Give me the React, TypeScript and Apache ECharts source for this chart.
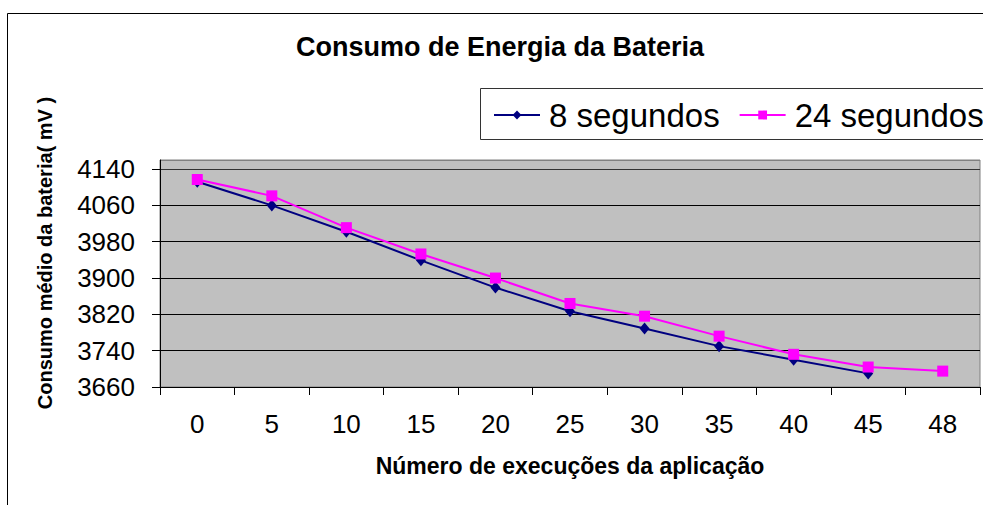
import React, { useEffect, useRef } from "react";
import * as echarts from "echarts";

const categories = ["0", "5", "10", "15", "20", "25", "30", "35", "40", "45", "48"];
const seg8 = [4112, 4060, 4002, 3939, 3879, 3827, 3789, 3750, 3720, 3690];
const seg24 = [4117, 4081, 4011, 3953, 3900, 3844, 3816, 3772, 3732, 3704, 3695];
const seriesNames = ["8 segundos", "24 segundos"];
const chartTitle = "Consumo de Energia da Bateria";
const xTitle = "Número de execuções da aplicação";
const yTitle = "Consumo médio da bateria( mV )";

const FONT = "'Liberation Sans', Arial, sans-serif";

export default function App() {
  const ref = useRef<HTMLDivElement>(null);
  useEffect(() => {
    if (!ref.current) return;
    const chart = echarts.init(ref.current, null, { renderer: "svg" });
    chart.setOption({
      animation: false,
      backgroundColor: "#ffffff",
      title: {
        text: chartTitle,
        left: 500,
        textAlign: "center",
        top: 33,
        padding: 0,
        textStyle: { fontFamily: FONT, fontSize: 27, fontWeight: "bold", color: "#000" },
      },
      graphic: [
        {
          type: "rect",
          z: 0,
          shape: { x: 7.5, y: 13.5, width: 1000, height: 600 },
          style: { fill: "none", stroke: "#000", lineWidth: 1 },
        },
        {
          type: "rect",
          z: 0,
          shape: { x: 480.5, y: 88.5, width: 600, height: 51 },
          style: { fill: "none", stroke: "#333", lineWidth: 1 },
        },
        {
          type: "text",
          x: 45,
          y: 253,
          rotation: Math.PI / 2,
          style: {
            text: yTitle,
            fontFamily: FONT,
            fontSize: 20,
            fontWeight: "bold",
            fill: "#000",
            align: "center",
            verticalAlign: "middle",
          },
        },
      ],
      legend: {
        left: 493,
        top: 95,
        width: 700,
        padding: 0,
        itemWidth: 46,
        itemHeight: 11,
        itemGap: 19,
        data: seriesNames,
        textStyle: {
          fontFamily: FONT,
          fontSize: 33,
          color: "#000",
          lineHeight: 40,
          padding: [0, 0, 0, 4],
        },
      },
      grid: {
        left: 160,
        top: 160,
        right: 3,
        bottom: 118,
        show: true,
        backgroundColor: "#C0C0C0",
        borderColor: "#808080",
        borderWidth: 1,
      },
      xAxis: {
        type: "category",
        data: categories,
        boundaryGap: true,
        name: xTitle,
        nameLocation: "middle",
        nameGap: 67,
        nameTextStyle: { fontFamily: FONT, fontSize: 23, fontWeight: "bold", color: "#000" },
        axisLine: { show: true, lineStyle: { color: "#000", width: 1 } },
        axisTick: { show: true, interval: 0, length: 8, lineStyle: { color: "#000" } },
        axisLabel: { interval: 0, margin: 24, fontFamily: FONT, fontSize: 26, color: "#000" },
        splitLine: { show: false },
      },
      yAxis: {
        type: "value",
        min: 3660,
        max: 4160,
        interval: 80,
        axisLine: { show: true, lineStyle: { color: "#000", width: 1 } },
        axisTick: { show: true, length: 8, lineStyle: { color: "#000" } },
        axisLabel: {
          margin: 25,
          showMaxLabel: false,
          fontFamily: FONT,
          fontSize: 26,
          color: "#000",
          formatter: (v: number) => String(v),
        },
        splitLine: {
          show: true,
          lineStyle: {
            color: ["#000", "#000", "#000", "#000", "#000", "#000", "#333", "#808080"],
            width: 1,
          },
        },
      },
      series: [
        {
          name: seriesNames[0],
          type: "line",
          data: seg8,
          symbol: "diamond",
          symbolSize: [10, 12],
          lineStyle: { color: "#000080", width: 2 },
          itemStyle: { color: "#000080" },
          z: 2,
        },
        {
          name: seriesNames[1],
          type: "line",
          data: seg24,
          symbol: "rect",
          symbolSize: 11,
          lineStyle: { color: "#FF00FF", width: 2 },
          itemStyle: { color: "#FF00FF" },
          z: 3,
        },
      ],
    });
    return () => chart.dispose();
  }, []);
  return (
    <div
      ref={ref}
      style={{ position: "fixed", left: 0, top: 0, width: 983, height: 505 }}
    />
  );
}
